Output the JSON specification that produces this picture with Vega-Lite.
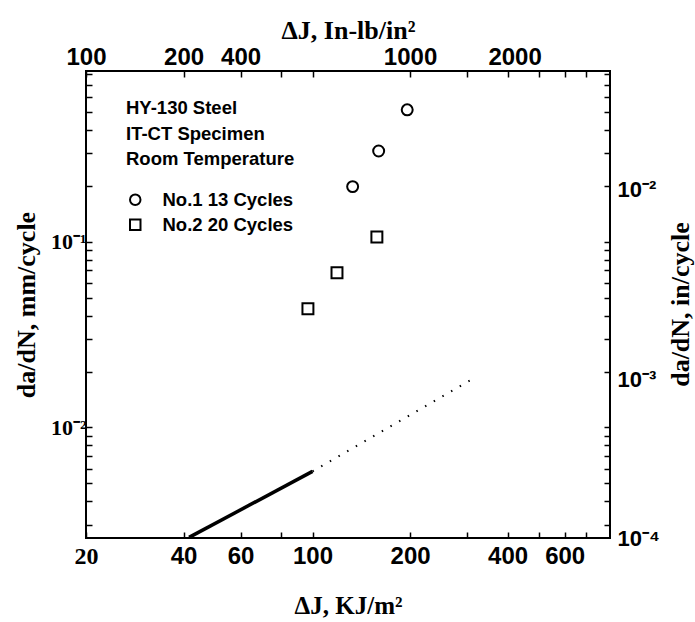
{
  "$schema": "https://vega.github.io/schema/vega-lite/v6.json",
  "width": 524,
  "height": 467,
  "autosize": {"type": "none"},
  "padding": {"left": 86, "top": 71, "right": 85, "bottom": 84},
  "background": "white",
  "config": {
    "view": {"stroke": "black", "strokeWidth": 2},
    "axis": {"domain": false, "grid": false, "ticks": true, "tickColor": "black", "tickWidth": 1.5, "tickSize": -6, "zindex": 1, "labelColor": "black", "titleColor": "black", "labelFlush": false, "labelOverlap": false}
  },
  "datasets": {
    "pts": [
      {"J": 196, "dadn": 0.513, "series": "No.1 13 Cycles"},
      {"J": 160, "dadn": 0.308, "series": "No.1 13 Cycles"},
      {"J": 133, "dadn": 0.198, "series": "No.1 13 Cycles"},
      {"J": 158, "dadn": 0.106, "series": "No.2 20 Cycles"},
      {"J": 119, "dadn": 0.068, "series": "No.2 20 Cycles"},
      {"J": 96.8, "dadn": 0.0436, "series": "No.2 20 Cycles"}
    ],
    "solid": [
      {"J": 41.6, "dadn": 0.00256},
      {"J": 100, "dadn": 0.0058}
    ],
    "dotted": [
      {"J": 100, "dadn": 0.0058},
      {"J": 306, "dadn": 0.0179}
    ]
  },
  "resolve": {"axis": {"x": "independent", "y": "independent"}},
  "layer": [
    {
      "data": {"name": "solid"},
      "mark": {"type": "line", "color": "black", "strokeWidth": 3.5},
      "encoding": {
        "x": {"field": "J", "type": "quantitative", "scale": {"type": "log", "domain": [20, 828], "nice": false}, "axis": null},
        "y": {"field": "dadn", "type": "quantitative", "scale": {"type": "log", "domain": [0.00254, 0.83], "nice": false}, "axis": null}
      }
    },
    {
      "data": {"name": "dotted"},
      "mark": {"type": "line", "color": "black", "strokeWidth": 2, "strokeDash": [1.5, 8.5]},
      "encoding": {
        "x": {"field": "J", "type": "quantitative", "scale": {"type": "log", "domain": [20, 828], "nice": false},
          "axis": {"orient": "top", "title": "ΔJ, In-lb/in²", "titleFont": "Liberation Serif", "titleFontSize": 26, "titleFontWeight": "bold", "titlePadding": 2,
            "values": [20, 40, 60, 80, 100, 200, 300, 400, 500, 600, 700],
            "labelExpr": "datum.value == 20 ? '100' : datum.value == 40 ? '200' : datum.value == 60 ? '400' : datum.value == 200 ? '1000' : datum.value == 400 ? '2000' : ''",
            "labelOffset": {"condition": {"test": "datum.value == 400", "value": 7}, "value": 0},
            "labelFont": "Liberation Sans", "labelFontSize": 24, "labelFontWeight": "bold", "labelPadding": 8}},
        "y": {"field": "dadn", "type": "quantitative", "scale": {"type": "log", "domain": [0.00254, 0.83], "nice": false},
          "axis": {"orient": "right", "title": "da/dN, in/cycle", "titleAngle": 270, "titleFont": "Liberation Serif", "titleFontSize": 26, "titleFontWeight": "bold",
            "titleX": 70, "titleY": 233, "titleAlign": "center", "titleBaseline": "middle",
            "values": [0.003, 0.004, 0.005, 0.006, 0.007, 0.008, 0.009, 0.01, 0.02, 0.03, 0.04, 0.05, 0.06, 0.07, 0.08, 0.09, 0.1, 0.2, 0.3, 0.4, 0.5, 0.6, 0.7, 0.8],
            "labels": false}}
      }
    },
    {
      "data": {"name": "solid"},
      "mark": {"type": "line", "opacity": 0},
      "encoding": {
        "x": {"field": "J", "type": "quantitative", "scale": {"type": "log", "domain": [20, 828], "nice": false}, "axis": null},
        "y": {"field": "dadn", "type": "quantitative", "scale": {"type": "log", "domain": [0.00254, 0.83], "nice": false},
          "axis": {"orient": "right", "title": null, "ticks": false,
            "values": [0.00254, 0.0181, 0.1904],
            "labelExpr": "datum.value == 0.00254 ? '10⁻⁴' : datum.value == 0.0181 ? '10⁻³' : '10⁻²'",
            "labelFont": "Liberation Sans", "labelFontSize": 22, "labelFontWeight": "bold", "labelPadding": 7, "labelAlign": "left"}}
      }
    },
    {
      "data": {"name": "pts"},
      "mark": {"type": "point", "filled": false, "color": "black", "strokeWidth": 2, "size": 120, "opacity": 1},
      "encoding": {
        "x": {"field": "J", "type": "quantitative", "scale": {"type": "log", "domain": [20, 828], "nice": false},
          "axis": {"orient": "bottom", "title": "ΔJ, KJ/m²", "titleFont": "Liberation Serif", "titleFontSize": 25, "titleFontWeight": "bold", "titlePadding": 25,
            "values": [20, 40, 60, 80, 100, 200, 300, 400, 500, 600, 700],
            "labelExpr": "indexof([20, 40, 60, 100, 200, 400, 600], datum.value) >= 0 ? datum.label : ''",
            "labelFont": {"condition": {"test": "datum.value == 20", "value": "Liberation Serif"}, "value": "Liberation Sans"},
            "labelFontSize": 24, "labelFontWeight": "bold", "labelPadding": 12}},
        "y": {"field": "dadn", "type": "quantitative", "scale": {"type": "log", "domain": [0.00254, 0.83], "nice": false},
          "axis": {"orient": "left", "title": "da/dN, mm/cycle", "titleFont": "Liberation Serif", "titleFontSize": 26, "titleFontWeight": "bold", "titlePadding": 11,
            "values": [0.003, 0.004, 0.005, 0.006, 0.007, 0.008, 0.009, 0.01, 0.02, 0.03, 0.04, 0.05, 0.06, 0.07, 0.08, 0.09, 0.1, 0.2, 0.3, 0.4, 0.5, 0.6, 0.7, 0.8],
            "labelExpr": "datum.value == 0.1 ? '10⁻¹' : datum.value == 0.01 ? '10⁻²' : ''",
            "labelFont": "Liberation Serif", "labelFontSize": 22, "labelFontWeight": "bold", "labelPadding": 6}},
        "shape": {"field": "series", "type": "nominal", "scale": {"domain": ["No.1 13 Cycles", "No.2 20 Cycles"], "range": ["circle", "square"]},
          "legend": {"orient": "none", "legendX": 40, "legendY": 28, "title": ["HY-130 Steel", "IT-CT Specimen", "Room Temperature"],
            "titleFont": "Liberation Sans", "titleFontSize": 18.5, "titleFontWeight": "bold", "titleLineHeight": 25.5, "titlePadding": 22, "titleColor": "black",
            "labelFont": "Liberation Sans", "labelFontSize": 18.5, "labelFontWeight": "bold", "labelColor": "black", "labelOffset": 18,
            "symbolSize": 110, "symbolStrokeColor": "black", "symbolStrokeWidth": 2, "symbolFillColor": "transparent", "rowPadding": 6, "padding": 0}}
      }
    }
  ]
}
